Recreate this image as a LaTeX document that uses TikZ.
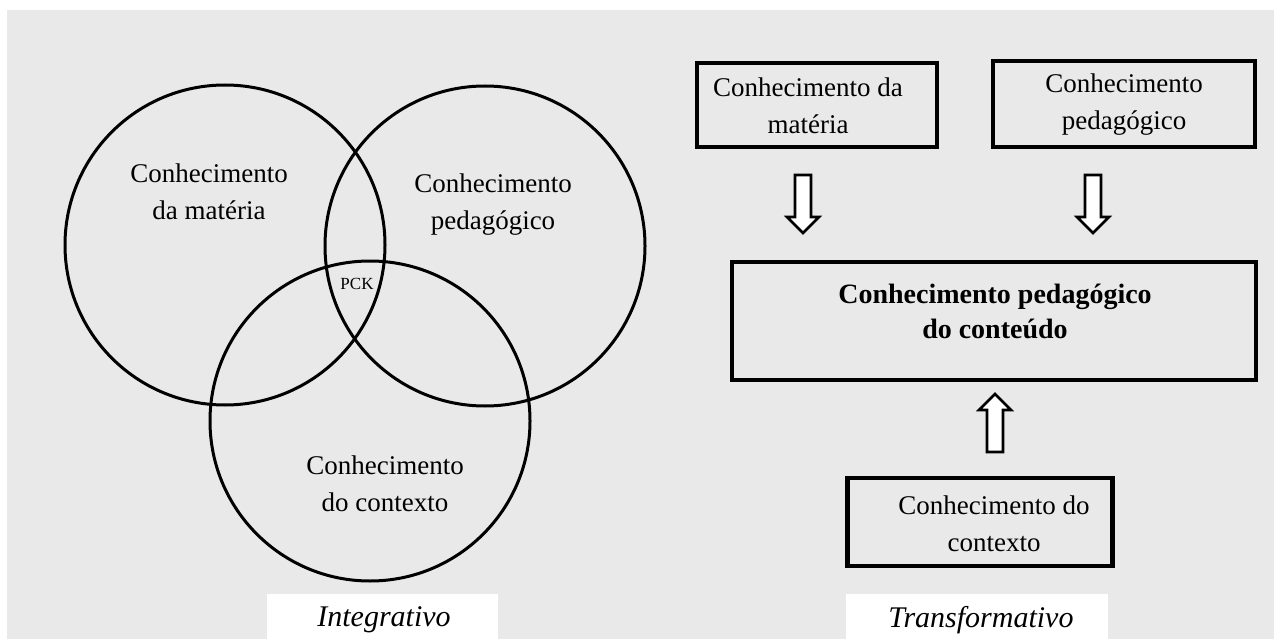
\documentclass[tikz,border=0pt]{standalone}
\usepackage{fontspec}
\setmainfont{Liberation Serif}
\definecolor{bggray}{HTML}{E9E9E9}
\tikzset{
  circ/.style={circle, draw=black, line width=3pt, minimum size=320pt, inner sep=0pt},
  txt/.style={align=center, inner sep=0pt, font=\fontsize{27}{37}\selectfont},
  boxnode/.style={draw=black, line width=4.5pt, inner sep=0pt},
  labelbox/.style={fill=white, draw=none, inner sep=0pt},
  labeltxt/.style={inner sep=0pt, font=\fontsize{30}{32}\selectfont\itshape},
  arrowline/.style={draw=black, fill=white, line width=2.6pt, line join=miter},
  downarw/.pic={\path[arrowline] (-8,0) -- (8,0) -- (8,42) -- (16,42) -- (0,58) -- (-16,42) -- (-8,42) -- cycle;}
}
\begin{document}
\begin{tikzpicture}[x=1pt,y=-1pt]
\useasboundingbox (0,0) rectangle (1274,639);
\fill[white] (0,0) rectangle (1274,639);
\fill[bggray] (7,10) rectangle (1274,639);

% Integrative model
\node[circ] (cm) at (225,245) {};
\node[circ] (cp) at (485,246) {};
\node[circ] (cc) at (370,421) {};
\node[txt] (tm) at (209,192) {Conhecimento\\da matéria};
\node[txt] (tp) at (493,205) {Conhecimento\\pedagógico};
\node[txt] (tc) at (385,484) {Conhecimento\\do contexto};
\node[inner sep=0pt, font=\fontsize{17}{18}\selectfont] (pck) at (357,284) {PCK};

% Transformative model
\node[boxnode, minimum width=240pt, minimum height=84pt] (bm) at (817,105) {};
\node[txt] (tbm) at (808,106) {Conhecimento da\\matéria};
\node[boxnode, minimum width=262pt, minimum height=86pt] (bp) at (1124,104) {};
\node[txt] (tbp) at (1124,105) {Conhecimento\\pedagógico};
\node[boxnode, minimum width=524pt, minimum height=118pt] (bpck) at (994,321) {};
\node[txt, font=\fontsize{28}{35}\selectfont\bfseries] (tbpck) at (995,311) {Conhecimento pedagógico\\do conteúdo};
\node[boxnode, minimum width=265pt, minimum height=88pt] (bc) at (980,522) {};
\node[txt] (tbc) at (994,524) {Conhecimento do\\contexto};

\pic at (803,175) {downarw};
\pic at (1093,175) {downarw};
\pic[rotate=180] at (995,452) {downarw};

% Labels
\node[labelbox, minimum width=231pt, minimum height=46pt] (li) at (382.5,617) {};
\node[labeltxt] (lit) at (384,620) {Integrativo};
\node[labelbox, minimum width=262pt, minimum height=46pt] (lt) at (977,617) {};
\node[labeltxt] (ltt) at (981,620) {Transformativo};
\end{tikzpicture}
\end{document}
